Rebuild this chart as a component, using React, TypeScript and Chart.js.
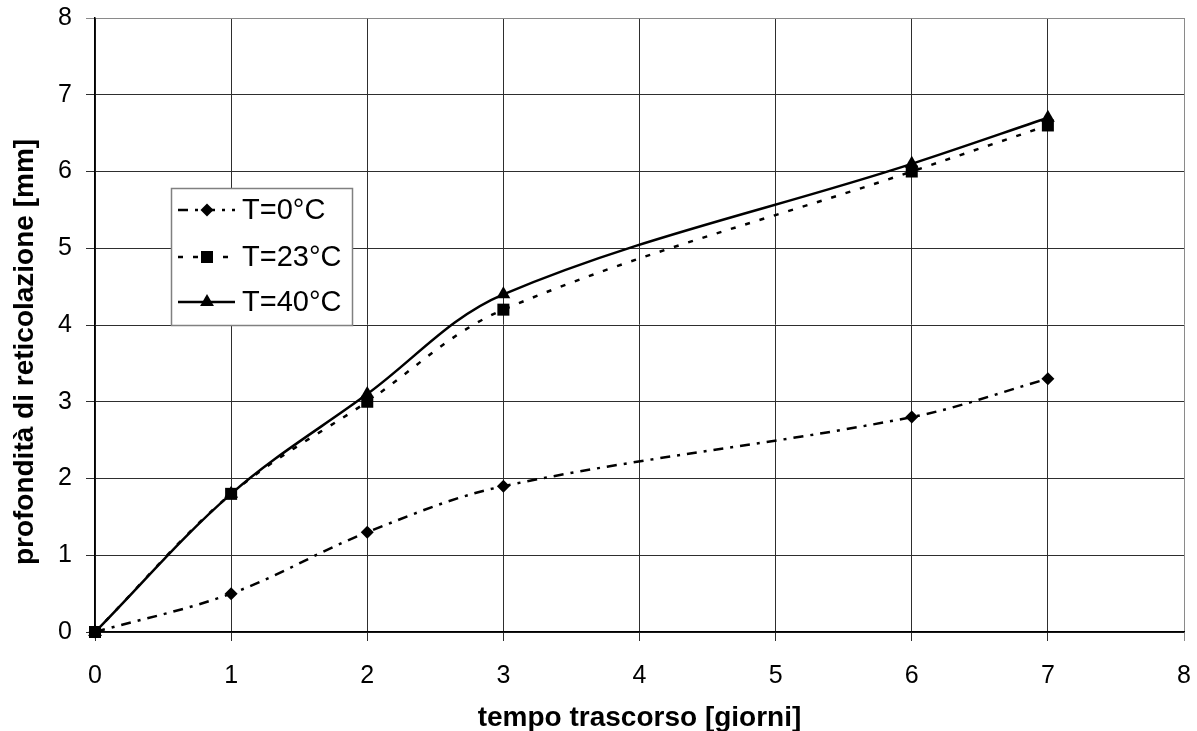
import React, { useEffect, useRef } from "react";
import { Chart, registerables } from "chart.js";

Chart.register(...registerables);

const days = [0, 1, 2, 3, 6, 7];
const seriesT0 = [0, 0.5, 1.3, 1.9, 2.8, 3.3];
const seriesT23 = [0, 1.8, 3.0, 4.2, 6.0, 6.6];
const seriesT40 = [0, 1.8, 3.1, 4.4, 6.1, 6.7];
const legendLabels = ["T=0°C", "T=23°C", "T=40°C"];
const xTitle = "tempo trascorso [giorni]";
const yTitle = "profondità di reticolazione [mm]";

const FONT = "'Liberation Sans', Arial, sans-serif";
const DASH_T0 = [10, 7, 3, 7];
const DASH_T23 = [5, 10];

function drawMarker(ctx: CanvasRenderingContext2D, kind: string, x: number, y: number) {
  ctx.save();
  ctx.fillStyle = "#000";
  ctx.beginPath();
  if (kind === "diamond") {
    const r = 6.5;
    ctx.moveTo(x, y - r);
    ctx.lineTo(x + r, y);
    ctx.lineTo(x, y + r);
    ctx.lineTo(x - r, y);
  } else if (kind === "square") {
    const s = 6;
    ctx.rect(x - s, y - s, 2 * s, 2 * s);
  } else {
    const r = 8;
    ctx.moveTo(x, y - r);
    ctx.lineTo(x + r * 0.866, y + r * 0.5);
    ctx.lineTo(x - r * 0.866, y + r * 0.5);
  }
  ctx.closePath();
  ctx.fill();
  ctx.restore();
}

const overlayPlugin = {
  id: "overlay",
  afterDraw(chart: any) {
    const ctx: CanvasRenderingContext2D = chart.ctx;
    const area = chart.chartArea;
    ctx.save();
    ctx.fillStyle = "#000";
    ctx.font = `bold 28px ${FONT}`;
    ctx.textAlign = "center";
    ctx.textBaseline = "middle";
    ctx.fillText(xTitle, (area.left + area.right) / 2, 718);
    ctx.save();
    ctx.translate(25, 352);
    ctx.rotate(-Math.PI / 2);
    ctx.fillText(yTitle, 0, 0);
    ctx.restore();

    const bx = 171, by = 188, bw = 181, bh = 137;
    ctx.fillStyle = "#fff";
    ctx.fillRect(bx, by, bw, bh);
    ctx.strokeStyle = "#808080";
    ctx.lineWidth = 1.5;
    ctx.strokeRect(bx + 0.5, by + 0.5, bw, bh);

    const rows = [210, 257, 302];
    const dashes = [DASH_T0, DASH_T23, []];
    const markers = ["diamond", "square", "triangle"];
    rows.forEach((ry, i) => {
      ctx.save();
      ctx.strokeStyle = "#000";
      ctx.lineWidth = 2.5;
      ctx.setLineDash(dashes[i]);
      ctx.beginPath();
      ctx.moveTo(178, ry);
      ctx.lineTo(235, ry);
      ctx.stroke();
      ctx.restore();
      drawMarker(ctx, markers[i], 207, ry);
      ctx.fillStyle = "#000";
      ctx.font = `29px ${FONT}`;
      ctx.textAlign = "left";
      ctx.textBaseline = "middle";
      ctx.fillText(legendLabels[i], 242, ry + 1);
    });
    ctx.restore();
  },
};

function toPoints(ys: number[]) {
  return days.map((d, i) => ({ x: d, y: ys[i] }));
}

export default function App() {
  const ref = useRef<HTMLCanvasElement>(null);
  useEffect(() => {
    document.body.style.margin = "0";
    const canvas = ref.current!;
    const gridColor = (c: any) => (c.tick && c.tick.value === 8 ? "#8a8a8a" : "#2e2e2e");
    const chart = new Chart(canvas, {
      type: "scatter",
      data: {
        datasets: [
          {
            label: legendLabels[1],
            data: toPoints(seriesT23),
            showLine: true,
            clip: false,
            borderColor: "#000",
            backgroundColor: "#000",
            borderWidth: 2.5,
            borderDash: DASH_T23,
            tension: 0.35,
            pointStyle: "rect",
            pointRadius: 8.5,
            pointBorderWidth: 0,
          },
          {
            label: legendLabels[0],
            data: toPoints(seriesT0),
            showLine: true,
            clip: false,
            borderColor: "#000",
            backgroundColor: "#000",
            borderWidth: 2.5,
            borderDash: DASH_T0,
            tension: 0.35,
            pointStyle: "rectRot",
            pointRadius: 6.5,
            pointBorderWidth: 0,
          },
          {
            label: legendLabels[2],
            data: toPoints(seriesT40),
            showLine: true,
            clip: false,
            borderColor: "#000",
            backgroundColor: "#000",
            borderWidth: 2.5,
            tension: 0.35,
            pointStyle: "triangle",
            pointRadius: 8,
            pointBorderWidth: 0,
          },
        ],
      },
      options: {
        responsive: false,
        animation: false,
        devicePixelRatio: 1,
        layout: { padding: { left: 0, top: 18, right: 13, bottom: 0 } },
        plugins: { legend: { display: false }, tooltip: { enabled: false } },
        scales: {
          x: {
            type: "linear",
            min: 0,
            max: 8,
            afterFit: (s: any) => {
              s.height = 99;
              s.paddingLeft = 0;
              s.paddingRight = 0;
            },
            ticks: {
              stepSize: 1,
              color: "#000",
              font: { family: FONT, size: 25 },
              padding: 20,
              maxRotation: 0,
            },
            grid: { color: gridColor, lineWidth: 1, tickLength: 9 },
            border: { color: "#000", width: 1.5 },
          },
          y: {
            type: "linear",
            min: 0,
            max: 8,
            afterFit: (s: any) => {
              s.width = 95;
              s.paddingTop = 0;
              s.paddingBottom = 0;
            },
            ticks: {
              stepSize: 1,
              color: "#000",
              font: { family: FONT, size: 25 },
              padding: 14,
            },
            grid: { color: gridColor, lineWidth: 1, tickLength: 9 },
            border: { color: "#000", width: 1.5 },
          },
        },
      },
      plugins: [overlayPlugin],
    } as any);
    return () => chart.destroy();
  }, []);
  return (
    <canvas ref={ref} width={1197} height={731} style={{ display: "block", width: 1197, height: 731 }} />
  );
}
